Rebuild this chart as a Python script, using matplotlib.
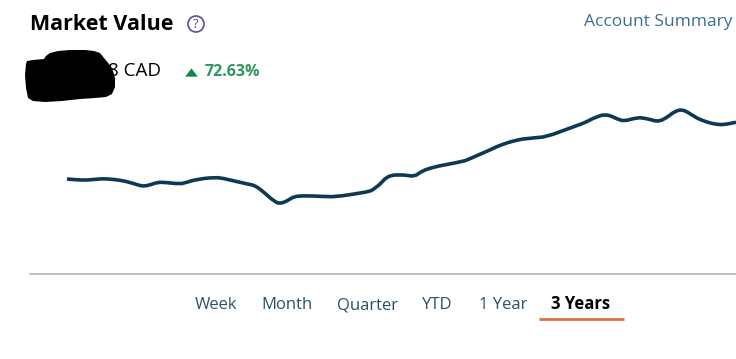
#!/usr/bin/env python3
import matplotlib
matplotlib.use("Agg")
import matplotlib.pyplot as plt
from matplotlib.patches import Circle

plt.rcParams["font.family"] = ["Open Sans", "DejaVu Sans"]

# in screen pixels
line_x = [67, 72, 77, 82, 87, 91, 95, 99, 102, 108, 115, 121, 127, 131, 135, 139, 143, 147, 151, 155, 160, 165, 171,
          176, 182, 186, 191, 195, 200, 204, 209, 213, 218, 224, 230, 235, 240, 244, 248, 252, 255, 258, 261, 264, 267,
          270, 273, 276, 278, 281, 284, 287, 290, 293, 297, 301, 305, 313, 322, 332, 342, 353, 361, 366, 370, 373, 375,
          378, 380, 383, 385, 388, 390, 393, 395, 399, 403, 407, 412, 416, 421, 425, 430, 438, 447, 456, 465, 472, 480,
          486, 492, 497, 503, 508, 513, 518, 523, 533, 543, 553, 563, 573, 583, 588, 593, 598, 602, 606, 609, 612, 617,
          622, 627, 631, 636, 640, 645, 650, 655, 658, 662, 666, 669, 672, 676, 680, 684, 688, 692, 697, 702, 707, 712,
          717, 722, 727, 731, 736]
line_y = [179, 179.4, 179.8, 180, 180, 179.7, 179.3, 179, 178.8, 179, 179.6, 180.5, 181.7, 182.8, 184, 185.2, 186, 185.6,
          184.5, 183.2, 182.3, 182.5, 183, 183.5, 183.5, 182.5, 181, 180, 179.2, 178.5, 178, 177.8, 177.7, 178.6, 180,
          181.2, 182.4, 183.2, 184, 184.9, 186, 187.8, 190, 192.5, 195, 197.8, 200, 202, 203, 203, 202.2, 200.8, 199,
          197.4, 196.3, 196, 195.9, 196, 196.4, 196.7, 195.8, 194.2, 192.8, 192, 191, 189.6, 188, 185.8, 184, 181, 178.9,
          176.9, 176, 175.3, 175, 175, 175, 175.4, 176, 175.2, 172, 170, 168.3, 166.2, 164.5, 162.7, 160.7, 157.8, 154.3,
          151.6, 149, 146.6, 144.3, 142.6, 141.2, 140, 139, 138, 137, 134.3, 130.7, 127, 123.3, 121, 118.5, 116.5, 115.2,
          115, 115.5, 116.5, 118.8, 120.5, 120.3, 119.2, 118.2, 117.7, 118.4, 119.5, 120.8, 121, 120, 117.8, 115.8, 113.5,
          111.2, 110, 110.5, 112.5, 115, 118, 120.2, 122, 123.4, 124.3, 124.6, 124, 123.2, 122.3]

blob_x = [26, 27, 33, 44, 46, 50, 58, 70, 85, 94, 100, 104, 109, 113, 115, 115, 112, 106, 95, 80, 62, 45, 33, 28, 26, 25]
blob_y = [64, 61, 60, 59, 56, 53, 51, 50, 50, 51, 53, 58, 64, 71, 78, 87, 94, 97, 98, 99, 101, 102, 101, 98, 88, 75]

range_labels = ["Week", "Month", "Quarter", "YTD", "1 Year", "3 Years"]
range_pos = [216, 287, 367, 437, 503, 581]

TEAL = "#2a5169"
NAVY = "#0d3a52"

fig = plt.figure(figsize=(7.36, 3.59), dpi=100, facecolor="white")
ax = fig.add_axes([0, 0, 1, 1])
ax.set_xlim(0, 736)
ax.set_ylim(359, 0)
ax.axis("off")

ax.plot(line_x, line_y, color=NAVY, lw=2.6, solid_joinstyle="round", solid_capstyle="butt")

ax.text(30, 30, "Market Value", fontsize=15.5, fontweight="bold", color="black", va="baseline", ha="left")
ax.add_patch(Circle((196, 24), 8, fill=False, ec="#5b4a9e", lw=1.2))
ax.text(196, 28, "?", fontsize=9, color="#5b4a9e", va="baseline", ha="center")
ax.text(733, 26, "Account Summary", fontsize=12.5, color="#3a6f92", va="baseline", ha="right")

ax.text(30, 76, "$", fontsize=13, color="black", va="baseline", ha="left")
ax.text(161, 76, "8 CAD", fontsize=13.5, color="black", va="baseline", ha="right")
ax.fill(blob_x, blob_y, color="black", lw=0, zorder=3)

ax.plot([191], [71.5], marker=[(-1.5, -1), (1.5, -1), (0, 1)], color="#14854a", ms=9, mew=0)
ax.text(205, 76, "72.63%", fontsize=11.5, fontweight="bold", color="#2e9560", va="baseline", ha="left")

ax.plot([30, 736], [274, 274], color="#b4b4b4", lw=1.2)

for label, x in zip(range_labels, range_pos):
    active = label == "3 Years"
    ax.text(x, 309, label, fontsize=12, ha="center", va="baseline",
            color="black" if active else TEAL,
            fontweight="bold" if active else "normal")
ax.plot([539, 624], [318.5, 318.5], color="#e0703a", lw=2, solid_capstyle="butt")

fig.savefig("out.png", dpi=100)
